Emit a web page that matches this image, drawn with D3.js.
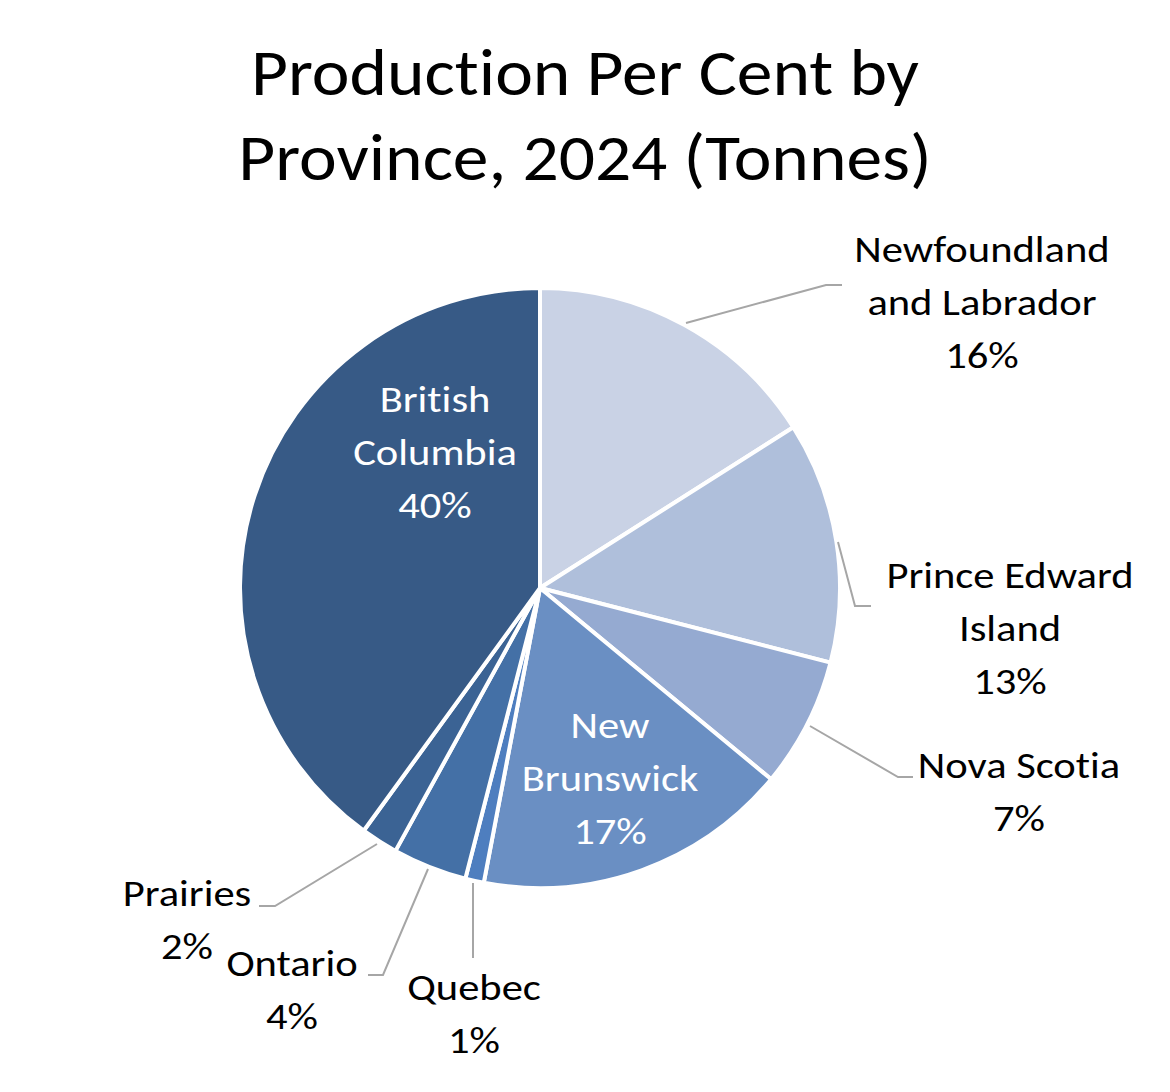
<!DOCTYPE html>
<html><head><meta charset="utf-8">
<script src="https://cdn.jsdelivr.net/npm/d3@7"></script>
<style>body{margin:0;background:#fff}svg{display:block}text{font-family:Carlito,Lato,"Open Sans",sans-serif;font-variant-ligatures:none;font-feature-settings:"liga" 0}</style>
</head><body><svg id="c" width="1170" height="1092"></svg>
<script>
const titleLines = ["Production Per Cent by", "Province, 2024 (Tonnes)"];
const categories = ["Newfoundland and Labrador","Prince Edward Island","Nova Scotia","New Brunswick","Quebec","Ontario","Prairies","British Columbia"];
const values = [16, 13, 7, 17, 1, 4, 2, 40];
const labelLines = [["Newfoundland","and Labrador","16%"],["Prince Edward","Island","13%"],["Nova Scotia","7%"],["New","Brunswick","17%"],["Quebec","1%"],["Ontario","4%"],["Prairies","2%"],["British","Columbia","40%"]];
const colors = ["#C9D2E5","#AFBFDB","#95AAD1","#6A8FC3","#4E7EBF","#4470A6","#3B6394","#375A86"];

const svg = d3.select("#c");
const cx = 540, cy = 588, R = 300;

svg.append("g").selectAll("text").data(titleLines).join("text")
  .attr("transform",(d,i)=>`translate(585,${95+i*85}) scale(1.10,1)`)
  .attr("text-anchor","middle").attr("font-size",65).attr("fill","#000").text(d=>d);

const pie = d3.pie().sort(null).value(d=>d)(values);
const arc = d3.arc().innerRadius(0).outerRadius(R);
const g = svg.append("g").attr("transform",`translate(${cx},${cy})`);
g.selectAll("path").data(pie).join("path")
  .attr("d",arc).attr("fill",(d,i)=>colors[i])
  .attr("stroke","#fff").attr("stroke-width",4).attr("stroke-linejoin","round");

const labelPos = [
  {x:982,y:262,inside:false},
  {x:1010,y:588,inside:false},
  {x:1019,y:778,inside:false},
  {x:610,y:738,inside:true},
  {x:474,y:1000,inside:false},
  {x:292,y:976,inside:false},
  {x:187,y:906,inside:false},
  {x:435,y:412,inside:true}
];
const leaders = [
  [[686,323],[826,285],[842,285]],
  [[838,542],[855,606],[871,606]],
  [[810,726],[898,777],[913,777]],
  null,
  [[473,883],[473,958]],
  [[428,869],[383,975],[368,975]],
  [[377,844],[275,906],[259,906]],
  null
];
const lineGen = d3.line();
svg.append("g").selectAll("path").data(leaders.filter(d=>d)).join("path")
  .attr("d",d=>lineGen(d)).attr("fill","none").attr("stroke","#A6A6A6").attr("stroke-width",2);

const lg = svg.append("g");
labelLines.forEach((lines,i)=>{
  const p = labelPos[i];
  lg.append("g").selectAll("text").data(lines).join("text")
    .attr("transform",(d,j)=>`translate(${p.x},${p.y+j*53}) scale(1.15,1)`)
    .attr("text-anchor","middle").attr("font-size",37)
    .attr("fill",p.inside?"#fff":"#000").text(d=>d);
});
</script></body></html>
